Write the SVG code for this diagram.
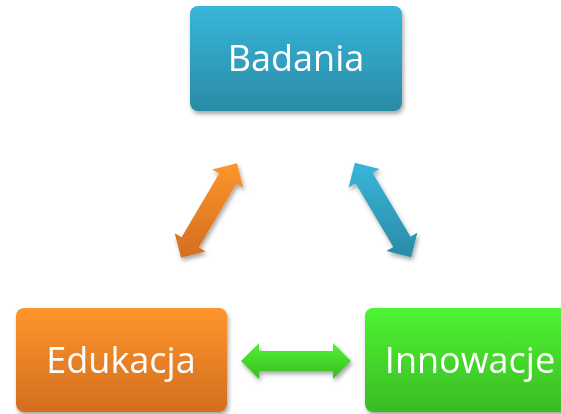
<svg xmlns="http://www.w3.org/2000/svg" width="561" height="414" viewBox="0 0 561 414">
<defs>
<style>
.lbl{font-family:"Open Sans","Liberation Sans",sans-serif;font-size:36px;fill:#ffffff;text-anchor:middle}
</style>
<linearGradient id="gBlue" x1="0" y1="0" x2="0" y2="1"><stop offset="0" stop-color="#38b6da"/><stop offset="1" stop-color="#2a8ba6"/></linearGradient>
<linearGradient id="gOrange" x1="0" y1="0" x2="0" y2="1"><stop offset="0" stop-color="#fe952d"/><stop offset="1" stop-color="#d36e1f"/></linearGradient>
<linearGradient id="gGreen" x1="0" y1="0" x2="0" y2="1"><stop offset="0" stop-color="#4ef432"/><stop offset="1" stop-color="#3bbb24"/></linearGradient>
<filter id="sh" x="-20%" y="-20%" width="140%" height="150%"><feDropShadow dx="1.5" dy="3" stdDeviation="2.2" flood-color="#000" flood-opacity="0.35"/></filter>
</defs>
<g id="badania" filter="url(#sh)">
<rect x="190" y="6" width="212" height="105" rx="8" fill="url(#gBlue)"/>
<text class="lbl" x="296" y="71">Badania</text>
</g>
<g id="edukacja" filter="url(#sh)">
<rect x="16" y="308" width="211" height="104" rx="8" fill="url(#gOrange)"/>
<text class="lbl" x="121" y="373">Edukacja</text>
</g>
<g id="innowacje" filter="url(#sh)">
<rect x="365" y="308" width="211" height="104" rx="8" fill="url(#gGreen)"/>
<text class="lbl" x="470" y="373">Innowacje</text>
</g>
<g id="connectors" filter="url(#sh)">
<path fill="url(#gOrange)" d="M181.08,257.87 L174.72,233.23 L181.61,237.29 L219.17,173.55 L212.28,169.49 L236.92,163.13 L243.28,187.77 L236.39,183.71 L198.83,247.45 L205.72,251.51 Z"/>
<path fill="url(#gBlue)" d="M354.85,162.74 L379.53,169.0 L372.65,173.09 L410.53,236.67 L417.41,232.58 L411.15,257.26 L386.47,251.0 L393.35,246.91 L355.47,183.33 L348.59,187.42 Z"/>
<path fill="url(#gGreen)" d="M241,361 L259,343 L259,351 L333,351 L333,343 L351,361 L333,379 L333,371 L259,371 L259,379 Z"/>
</g>
</svg>
